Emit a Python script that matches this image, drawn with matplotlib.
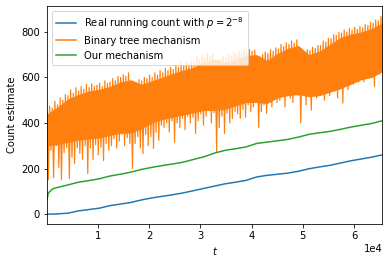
import numpy as np
import matplotlib
matplotlib.use("Agg")
import matplotlib.pyplot as plt

# time grid for the smooth series
line_t = [0, 256, 1024, 2048, 4096, 6144, 8192, 10240, 12288, 14336, 16384,
          18432, 20480, 22528, 24576, 26624, 28672, 30720, 32768, 34816,
          36864, 38912, 40960, 43008, 45056, 47104, 49152, 51200, 53248,
          55296, 57344, 59392, 61440, 63488, 65536]

real_count = [0, 0, 0, 1, 4, 14, 20, 26, 37, 44, 51, 62, 71, 78, 85, 93, 103,
              113, 123, 133, 140, 148, 163, 170, 175, 180, 188, 199, 207, 214,
              224, 234, 242, 250, 260]

our_mech = [62, 92, 110, 117, 128, 140, 147, 155, 167, 175, 184, 196, 205, 213,
            220, 228, 240, 252, 268, 280, 287, 295, 310, 316, 322, 328, 338,
            350, 357, 363, 372, 382, 390, 398, 410]

# binary tree mechanism: dense core of the noisy trace (every 2048 steps)
core_t = [0, 2048, 4096, 6144, 8192, 10240, 12288, 14336, 16384, 18432,
          20480, 22528, 24576, 26624, 28672, 30720, 32768, 34816, 36864,
          38912, 40960, 43008, 45056, 47104, 49152, 51200, 53248, 55296,
          57344, 59392, 61440, 63488, 65536]
core_high = [440, 470, 505, 525, 540, 548, 560, 580, 590, 570, 585, 600, 618,
             632, 645, 668, 680, 665, 680, 695, 700, 675, 705, 728, 740, 700,
             715, 745, 775, 790, 800, 815, 840]
core_low = [300, 305, 315, 325, 330, 335, 345, 355, 355, 375, 400, 415, 425,
            435, 445, 455, 455, 460, 475, 490, 490, 485, 510, 520, 525, 515,
            520, 535, 550, 570, 590, 600, 625]

# binary tree mechanism: successive high / low excursions (every 512 steps)
tree_high = [450, 475, 465, 495, 480, 510, 500, 525,
             520, 545, 530, 555, 540, 560, 548, 570,
             555, 572, 560, 566, 575, 560, 585, 575,
             580, 595, 585, 605, 600, 612, 605, 620,
             540, 560, 575, 590, 585, 600, 595, 610,
             600, 620, 610, 630, 620, 640, 630, 645,
             635, 655, 645, 665, 650, 670, 660, 672,
             665, 690, 675, 700, 688, 705, 695, 705,
             650, 675, 680, 695, 685, 700, 695, 710,
             700, 715, 705, 720, 710, 722, 715, 720,
             655, 690, 700, 712, 705, 722, 715, 730,
             725, 745, 735, 752, 745, 760, 750, 765,
             692, 705, 712, 722, 718, 732, 728, 740,
             740, 760, 755, 772, 770, 788, 785, 798,
             795, 808, 800, 815, 808, 820, 812, 825,
             818, 832, 828, 842, 838, 852, 848, 868]

tree_low = [150, 280, 160, 300, 205, 150, 270, 290,
            156, 250, 222, 290, 266, 240, 300, 178,
            290, 240, 305, 260, 293, 235, 310, 280,
            300, 330, 290, 320, 350, 300, 335, 310,
            200, 310, 340, 290, 266, 350, 300, 340,
            288, 360, 324, 390, 380, 400, 360, 410,
            315, 400, 380, 420, 370, 430, 400, 425,
            354, 410, 440, 390, 430, 455, 400, 445,
            272, 380, 430, 354, 442, 400, 420, 450,
            440, 420, 460, 425, 480, 450, 470, 490,
            381, 450, 480, 442, 500, 470, 520, 490,
            500, 530, 470, 544, 510, 490, 540, 520,
            400, 520, 480, 550, 456, 540, 510, 557,
            530, 500, 550, 520, 560, 540, 510, 560,
            487, 560, 546, 590, 570, 600, 580, 620,
            580, 610, 600, 630, 560, 640, 615, 646]

tree_vals = []
for h, l in zip(tree_high, tree_low):
    tree_vals.extend([h, l])
tree_t = np.linspace(1, 65536, len(tree_vals))

fig = plt.figure(figsize=(389 / 72, 264 / 72), dpi=72)
ax = fig.add_axes([47 / 389, 40 / 264, (382.3 - 47) / 389, 218 / 264])

ax.plot(line_t, real_count, color="C0", lw=1.5,
        label=r"Real running count with $p = 2^{-8}$")
ax.fill_between(core_t, core_low, core_high, color="C1", lw=0)
ax.plot(tree_t, tree_vals, color="C1", lw=1.2, label="Binary tree mechanism")
ax.plot(line_t, our_mech, color="C2", lw=1.5, label="Our mechanism")

ax.set_xlim(1, 65536)
ax.set_ylim(-43.5, 913.5)
ax.set_yticks([0, 200, 400, 600, 800])
ax.ticklabel_format(axis="x", style="sci", scilimits=(4, 4))
ax.set_xlabel(r"$t$")
ax.set_ylabel("Count estimate")
leg = ax.legend(loc="upper left")
for h in leg.get_lines():
    h.set_linewidth(1.5)

fig.savefig("out.png", dpi=72)
